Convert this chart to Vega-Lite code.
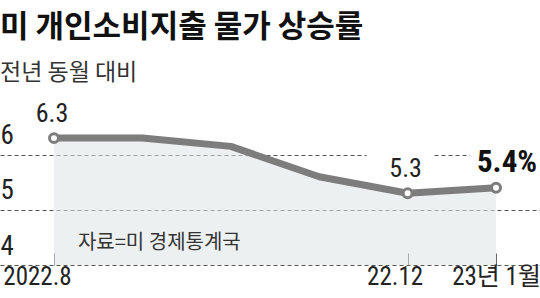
{
  "$schema": "https://vega.github.io/schema/vega-lite/v6.json",
  "width": 540,
  "height": 160,
  "autosize": {"type": "none"},
  "padding": {"top": 105, "left": 0, "right": 0, "bottom": 33},
  "background": "white",
  "config": {"view": {"stroke": null}, "font": "Noto Sans CJK KR"},
  "title": {
    "text": "미 개인소비지출 물가 상승률",
    "subtitle": "전년 동월 대비",
    "anchor": "start",
    "frame": "group",
    "font": "Noto Sans CJK KR",
    "fontSize": 31,
    "fontWeight": "bold",
    "color": "#111111",
    "subtitleFont": "Noto Sans CJK KR",
    "subtitleFontSize": 23,
    "subtitleColor": "#333333",
    "subtitlePadding": 18,
    "offset": 15
  },
  "data": {
    "values": [
      {"month": "2022.8", "rate": 6.3, "label": "6.3"},
      {"month": "2022.9", "rate": 6.3},
      {"month": "2022.10", "rate": 6.15},
      {"month": "2022.11", "rate": 5.6},
      {"month": "22.12", "rate": 5.3, "label": "5.3"},
      {"month": "23년 1월", "rate": 5.4, "label": "5.4%"}
    ]
  },
  "layer": [
    {
      "encoding": {
        "x": {
          "field": "month",
          "type": "ordinal",
          "sort": null,
          "scale": {"type": "point", "padding": 0.554, "align": 0.551},
          "axis": {
            "values": ["2022.8", "22.12", "23년 1월"],
            "title": null,
            "domain": false,
            "grid": false,
            "ticks": true,
            "tickSize": -12,
            "tickColor": "#666666",
            "tickWidth": 1,
            "labelAngle": 0,
            "labelFont": "Roboto Condensed, DejaVu Sans Condensed, Noto Sans CJK KR",
            "labelFontSize": 25,
            "labelColor": "#222222",
            "labelBaseline": "top",
            "labelPadding": 11,
            "labelOffset": {"expr": "datum.value == '2022.8' ? -17 : datum.value == '22.12' ? -13 : 0"},
            "labelFlush": false,
            "labelOverlap": false
          }
        },
        "y": {
          "field": "rate",
          "type": "quantitative",
          "scale": {"domain": [4, 6.9], "nice": false, "zero": false},
          "axis": {
            "values": [4, 5, 6],
            "title": null,
            "domain": false,
            "ticks": false,
            "tickSize": 0,
            "grid": true,
            "gridDash": [4, 3],
            "gridColor": "#555555",
            "gridWidth": 1,
            "labelFont": "Roboto Condensed, DejaVu Sans Condensed",
            "labelFontSize": 27,
            "labelColor": "#222222",
            "labelAlign": "left",
            "labelBaseline": "alphabetic",
            "labelOffset": -11,
            "labelPadding": 0
          }
        }
      },
      "layer": [
        {
          "mark": {"type": "area", "color": "#dfe3e3", "fillOpacity": 0.55},
          "encoding": {"y2": {"datum": 4}}
        },
        {
          "mark": {"type": "line", "color": "#7d7d7d", "strokeWidth": 7, "strokeJoin": "round"}
        },
        {
          "transform": [{"filter": "datum.label == '5.3'"}],
          "mark": {"type": "point", "shape": "M-1,-0.4H1V0.4H-1Z", "filled": true, "color": "white", "opacity": 1, "size": 4356, "xOffset": -8, "yOffset": -29}
        },
        {
          "transform": [{"filter": "datum.label == '5.4%'"}],
          "mark": {"type": "point", "shape": "M-1,-0.4H1V0.4H-1Z", "filled": true, "color": "white", "opacity": 1, "size": 4900, "xOffset": 9, "yOffset": -28}
        },
        {
          "transform": [{"filter": "isValid(datum.label)"}],
          "mark": {"type": "point", "shape": "circle", "filled": true, "fill": "white", "stroke": "#7d7d7d", "strokeWidth": 3, "size": 80, "opacity": 1}
        },
        {
          "transform": [{"filter": "datum.label == '6.3' || datum.label == '5.3'"}],
          "mark": {"type": "text", "font": "Roboto Condensed, DejaVu Sans Condensed", "fontSize": 26, "color": "#222222", "baseline": "alphabetic", "dy": -16, "dx": -2},
          "encoding": {"text": {"field": "label"}}
        },
        {
          "transform": [{"filter": "datum.label == '5.4%'"}],
          "mark": {"type": "text", "font": "Roboto Condensed, DejaVu Sans Condensed", "fontSize": 31, "fontWeight": "bold", "color": "#111111", "baseline": "alphabetic", "dy": -16, "dx": 11},
          "encoding": {"text": {"field": "label"}}
        }
      ]
    },
    {
      "data": {"values": [{"month": "2022.8", "rate": 4.4, "note": "자료=미 경제통계국"}]},
      "mark": {"type": "text", "font": "Noto Sans CJK KR", "fontSize": 20, "color": "#333333", "align": "left", "baseline": "middle", "dx": 24},
      "encoding": {
        "x": {"field": "month", "type": "ordinal", "sort": null},
        "y": {"field": "rate", "type": "quantitative"},
        "text": {"field": "note"}
      }
    }
  ]
}
